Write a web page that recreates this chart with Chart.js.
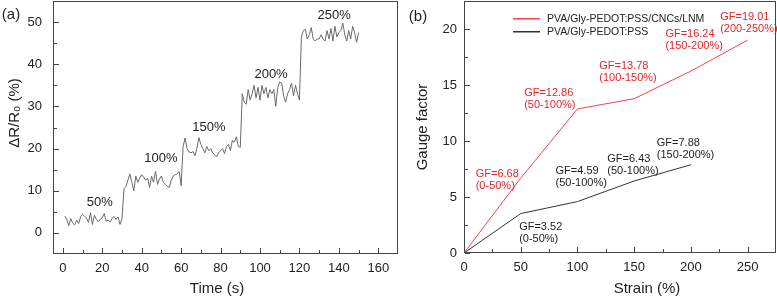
<!DOCTYPE html>
<html>
<head>
<meta charset="utf-8">
<script src="https://cdn.jsdelivr.net/npm/chart.js@4.4.0/dist/chart.umd.min.js"></script>
<style>
html, body { margin: 0; padding: 0; background: #fff; }
#wrap { position: relative; width: 777px; height: 299px; overflow: hidden; }
.panel { position: absolute; top: 0; height: 299px; }
#pa { left: 0; width: 400px; }
#pb { left: 400px; width: 377px; }
</style>
</head>
<body>
<div id="wrap">
    <div class="panel" id="pa"><canvas id="chartA"></canvas></div>
    <div class="panel" id="pb"><canvas id="chartB"></canvas></div>
</div>
<script>
// panel (a): relative resistance change vs time
const timeSec = [
    1, 2, 3, 4, 5, 6, 7, 8, 9, 10, 11, 12, 13, 14, 15, 16, 17, 18, 19, 20, 21, 22, 23, 24, 25, 26, 27, 28, 29, 30,
    31, 32, 33, 34, 35, 36, 37, 38, 39, 40, 41, 42, 43, 44, 45, 46, 47, 48, 49, 50, 51, 52, 53, 54, 55, 56, 57, 58, 59, 60,
    61, 62, 63, 64, 65, 66, 67, 68, 69, 70, 71, 72, 73, 74, 75, 76, 77, 78, 79, 80, 81, 82, 83, 84, 85, 86, 87, 88, 89, 90,
    91, 92, 93, 94, 95, 96, 97, 98, 99, 100, 101, 102, 103, 104, 105, 106, 107, 108, 109, 110, 111, 112, 113, 114, 115, 116, 117, 118, 119, 120,
    121, 122, 123, 124, 125, 126, 127, 128, 129, 130, 131, 132, 133, 134, 135, 136, 137, 138, 139, 140, 141, 142, 143, 144, 145, 146, 147, 148, 149, 150
];
const resistanceChange = [
    4.0, 3.2, 1.7, 3.4, 2.3, 1.9, 3.0, 2.2, 3.8, 4.4, 4.0, 3.5, 2.5, 4.8, 2.0, 4.2, 3.2, 2.6, 3.3, 3.6, 4.6, 2.8, 3.0, 2.6, 3.5, 3.9, 3.2, 3.8, 2.0, 3.4,
    10.5, 11.0, 12.5, 14.0, 12.0, 10.0, 13.5, 12.0, 13.0, 13.8, 13.2, 12.5, 13.0, 10.8, 13.5, 12.0, 14.6, 11.5, 12.8, 13.5, 12.0, 11.5, 11.0, 10.8, 12.5, 13.5, 13.8, 14.0, 14.6, 11.2,
    20.5, 22.5, 20.0, 19.2, 19.0, 19.3, 18.3, 20.0, 22.6, 21.0, 20.0, 19.0, 20.5, 19.5, 20.0, 19.0, 18.5, 18.0, 19.0, 19.5, 20.0, 18.8, 20.5, 21.0, 19.5, 22.0, 21.5, 22.8, 20.5, 20.3,
    33.0, 31.0, 30.5, 34.0, 31.5, 33.0, 35.0, 32.0, 34.5, 31.5, 35.0, 33.0, 34.5, 32.0, 34.0, 33.0, 34.0, 30.0, 34.5, 35.8, 35.5, 32.5, 31.0, 33.0, 34.0, 35.5, 32.5, 35.0, 33.0, 31.5,
    46.5, 48.0, 48.3, 46.0, 47.0, 48.7, 46.0, 45.5, 46.0, 46.0, 47.0, 46.0, 45.5, 48.0, 46.0, 48.5, 45.5, 49.0, 46.5, 47.5, 48.0, 49.8, 47.0, 45.5, 48.0, 46.0, 49.0, 47.5, 45.2, 47.5
];
const strainSteps = ['50%', '100%', '150%', '200%', '250%'];
const timeTicks = [0, 20, 40, 60, 80, 100, 120, 140, 160];
const resistanceTicks = [0, 10, 20, 30, 40, 50];

// panel (b): gauge factor vs strain
const strainComposite = [0, 50, 100, 150, 200, 250];
const gfComposite = [0, 6.68, 12.86, 13.78, 16.24, 19.01];
const strainPlain = [0, 50, 100, 150, 200];
const gfPlain = [0, 3.52, 4.59, 6.43, 7.88];
const seriesNames = ['PVA/Gly-PEDOT:PSS/CNCs/LNM', 'PVA/Gly-PEDOT:PSS'];
const gfTextComposite = ['GF=6.68', 'GF=12.86', 'GF=13.78', 'GF=16.24', 'GF=19.01'];
const rangeTextComposite = ['(0-50%)', '(50-100%)', '(100-150%)', '(150-200%)', '(200-250%)'];
const gfTextPlain = ['GF=3.52', 'GF=4.59', 'GF=6.43', 'GF=7.88'];
const rangeTextPlain = ['(0-50%)', '(50-100%)', '(50-100%)', '(150-200%)'];
const strainTicks = [0, 50, 100, 150, 200, 250];
const gaugeTicks = [0, 5, 10, 15, 20];

// where the text labels sit, in axis units
const stepLabelAt = [[18.7, 7.2], [49.7, 17.7], [74.1, 25.0], [105.6, 37.5], [137.6, 51.6]];
const compositeLabelAt = [[10.3, 7.1], [53.0, 14.3], [119.2, 16.7], [177.5, 19.55], [225.8, 21.05]];
const plainLabelAt = [[48.6, 2.33], [80.7, 7.34], [126.3, 8.36], [169.9, 9.79]];

Chart.defaults.font.family = "'Liberation Sans', Arial, sans-serif";
Chart.defaults.color = '#222';

const RED = '#f04646';
const RED_TEXT = '#e3262b';
const DARK = '#333';
const FONT = '"Liberation Sans", Arial, sans-serif';

function mids(vals) {
    const out = [];
    for (let i = 0; i < vals.length - 1; i++) out.push((vals[i] + vals[i + 1]) / 2);
    return out;
}

// box round the plot area with inward major and minor ticks (1px filled bars)
function drawBox(chart) {
    const ctx = chart.ctx;
    const a = chart.chartArea;
    const xs = chart.scales.x, ys = chart.scales.y;
    const l = Math.round(a.left), r = Math.round(a.right);
    const t = Math.round(a.top), b = Math.round(a.bottom);
    ctx.save();
    ctx.globalAlpha = 1;
    ctx.fillStyle = '#444';
    ctx.fillRect(l, t, r - l, 1);
    ctx.fillRect(l, b - 1, r - l, 1);
    ctx.fillRect(l, t, 1, b - t);
    ctx.fillRect(r - 1, t, 1, b - t);
    const xv = xs.ticks.map(k => k.value);
    const yv = ys.ticks.map(k => k.value);
    xv.forEach(v => ctx.fillRect(Math.round(xs.getPixelForValue(v)), b - 6, 1, 5));
    mids(xv).forEach(v => ctx.fillRect(Math.round(xs.getPixelForValue(v)), b - 4, 1, 3));
    yv.forEach(v => ctx.fillRect(l + 1, Math.round(ys.getPixelForValue(v)), 5, 1));
    mids(yv).forEach(v => ctx.fillRect(l + 1, Math.round(ys.getPixelForValue(v)), 3, 1));
    ctx.restore();
}

const decor = {
    id: 'decor',
    afterDatasetsDraw(chart, args, opts) {
        const { ctx } = chart;
        const xs = chart.scales.x, ys = chart.scales.y;
        drawBox(chart);
        ctx.save();
        ctx.textBaseline = 'middle';
        // text notes placed by axis values
        (opts.notes || []).forEach(n => {
            ctx.font = n.font;
            ctx.fillStyle = n.color;
            ctx.textAlign = n.align || 'left';
            const px = xs.getPixelForValue(n.x);
            const py = ys.getPixelForValue(n.y);
            n.lines.forEach((line, i) => ctx.fillText(line, px, py + i * 12));
        });
        // axis titles and panel letter, in canvas pixels
        (opts.captions || []).forEach(c => {
            ctx.font = c.font;
            ctx.fillStyle = '#222';
            ctx.textAlign = 'center';
            ctx.save();
            ctx.translate(c.x, c.y);
            if (c.rot) ctx.rotate(c.rot);
            ctx.fillText(c.text, 0, 0);
            ctx.restore();
        });
        // small legend inside the plot
        (opts.legend || []).forEach(lg => {
            ctx.fillStyle = lg.color;
            ctx.fillRect(lg.x, lg.y - 1, 27, 1.5);
            ctx.font = '10.5px ' + FONT;
            ctx.fillStyle = '#222';
            ctx.textAlign = 'left';
            ctx.fillText(lg.text, lg.x + 34, lg.y);
        });
        ctx.restore();
    }
};

const tickFont = { size: 13 };
const noPadX = s => { s.paddingLeft = 0; s.paddingRight = 0; };
const noPadY = s => { s.paddingTop = 0; s.paddingBottom = 0; };

new Chart(document.getElementById('chartA'), {
    type: 'line',
    data: {
        datasets: [{
            data: timeSec.map((t, i) => ({ x: t, y: resistanceChange[i] })),
            borderColor: '#6a6a6a',
            borderWidth: 1,
            pointRadius: 0,
            tension: 0
        }]
    },
    options: {
        responsive: true,
        maintainAspectRatio: false,
        animation: false,
        layout: { padding: { top: 1, right: 2, left: 0, bottom: 0 } },
        plugins: {
            legend: { display: false },
            tooltip: { enabled: false },
            decor: {
                notes: strainSteps.map((s, i) => ({
                    lines: [s], x: stepLabelAt[i][0], y: stepLabelAt[i][1],
                    align: 'center', color: '#222', font: '13px ' + FONT
                })),
                captions: [
                    { text: '(a)', x: 11, y: 15, font: '15px ' + FONT },
                    { text: 'Time (s)', x: 217, y: 289, font: '15px ' + FONT },
                    { text: 'ΔR/R₀ (%)', x: 15, y: 113, rot: -Math.PI / 2, font: '15px ' + FONT }
                ]
            }
        },
        scales: {
            x: {
                type: 'linear',
                min: -5,
                max: 170,
                afterBuildTicks: s => { s.ticks = timeTicks.map(v => ({ value: v })); },
                afterFit: s => { s.height = 45; noPadX(s); },
                grid: { display: false, drawTicks: false },
                border: { display: false },
                ticks: { font: tickFont, padding: 7, maxRotation: 0 }
            },
            y: {
                type: 'linear',
                min: -5,
                max: 55,
                afterBuildTicks: s => { s.ticks = resistanceTicks.map(v => ({ value: v })); },
                afterFit: s => { s.width = 53; noPadY(s); },
                grid: { display: false, drawTicks: false },
                border: { display: false },
                ticks: { font: tickFont, padding: 11 }
            }
        }
    },
    plugins: [decor]
});

const noteFont = '11px ' + FONT;

new Chart(document.getElementById('chartB'), {
    type: 'line',
    data: {
        datasets: [
            {
                label: seriesNames[0],
                data: strainComposite.map((s, i) => ({ x: s, y: gfComposite[i] })),
                borderColor: RED,
                borderWidth: 1,
                pointRadius: 0,
                tension: 0
            },
            {
                label: seriesNames[1],
                data: strainPlain.map((s, i) => ({ x: s, y: gfPlain[i] })),
                borderColor: DARK,
                borderWidth: 1,
                pointRadius: 0,
                tension: 0
            }
        ]
    },
    options: {
        responsive: true,
        maintainAspectRatio: false,
        animation: false,
        layout: { padding: { top: 1, right: 1, left: 0, bottom: 0 } },
        plugins: {
            legend: { display: false },
            tooltip: { enabled: false },
            decor: {
                notes: [
                    ...gfTextComposite.map((g, i) => ({
                        lines: [g, rangeTextComposite[i]], x: compositeLabelAt[i][0], y: compositeLabelAt[i][1],
                        color: RED_TEXT, font: noteFont
                    })),
                    ...gfTextPlain.map((g, i) => ({
                        lines: [g, rangeTextPlain[i]], x: plainLabelAt[i][0], y: plainLabelAt[i][1],
                        color: '#222', font: noteFont
                    }))
                ],
                captions: [
                    { text: '(b)', x: 18, y: 17, font: '15px ' + FONT },
                    { text: 'Strain (%)', x: 247, y: 289, font: '15px ' + FONT },
                    { text: 'Gauge factor', x: 23, y: 127, rot: -Math.PI / 2, font: '15px ' + FONT }
                ],
                legend: [
                    { text: seriesNames[0], color: RED, x: 113, y: 19 },
                    { text: seriesNames[1], color: DARK, x: 113, y: 32 }
                ]
            }
        },
        scales: {
            x: {
                type: 'linear',
                min: 0,
                max: 275,
                afterBuildTicks: s => { s.ticks = strainTicks.map(v => ({ value: v })); },
                afterFit: s => { s.height = 46; noPadX(s); },
                grid: { display: false, drawTicks: false },
                border: { display: false },
                ticks: { font: tickFont, padding: 7, maxRotation: 0 }
            },
            y: {
                type: 'linear',
                min: 0,
                max: 22.5,
                afterBuildTicks: s => { s.ticks = gaugeTicks.map(v => ({ value: v })); },
                afterFit: s => { s.width = 64; noPadY(s); },
                grid: { display: false, drawTicks: false },
                border: { display: false },
                ticks: { font: tickFont, padding: 7 }
            }
        }
    },
    plugins: [decor]
});
</script>
</body>
</html>
